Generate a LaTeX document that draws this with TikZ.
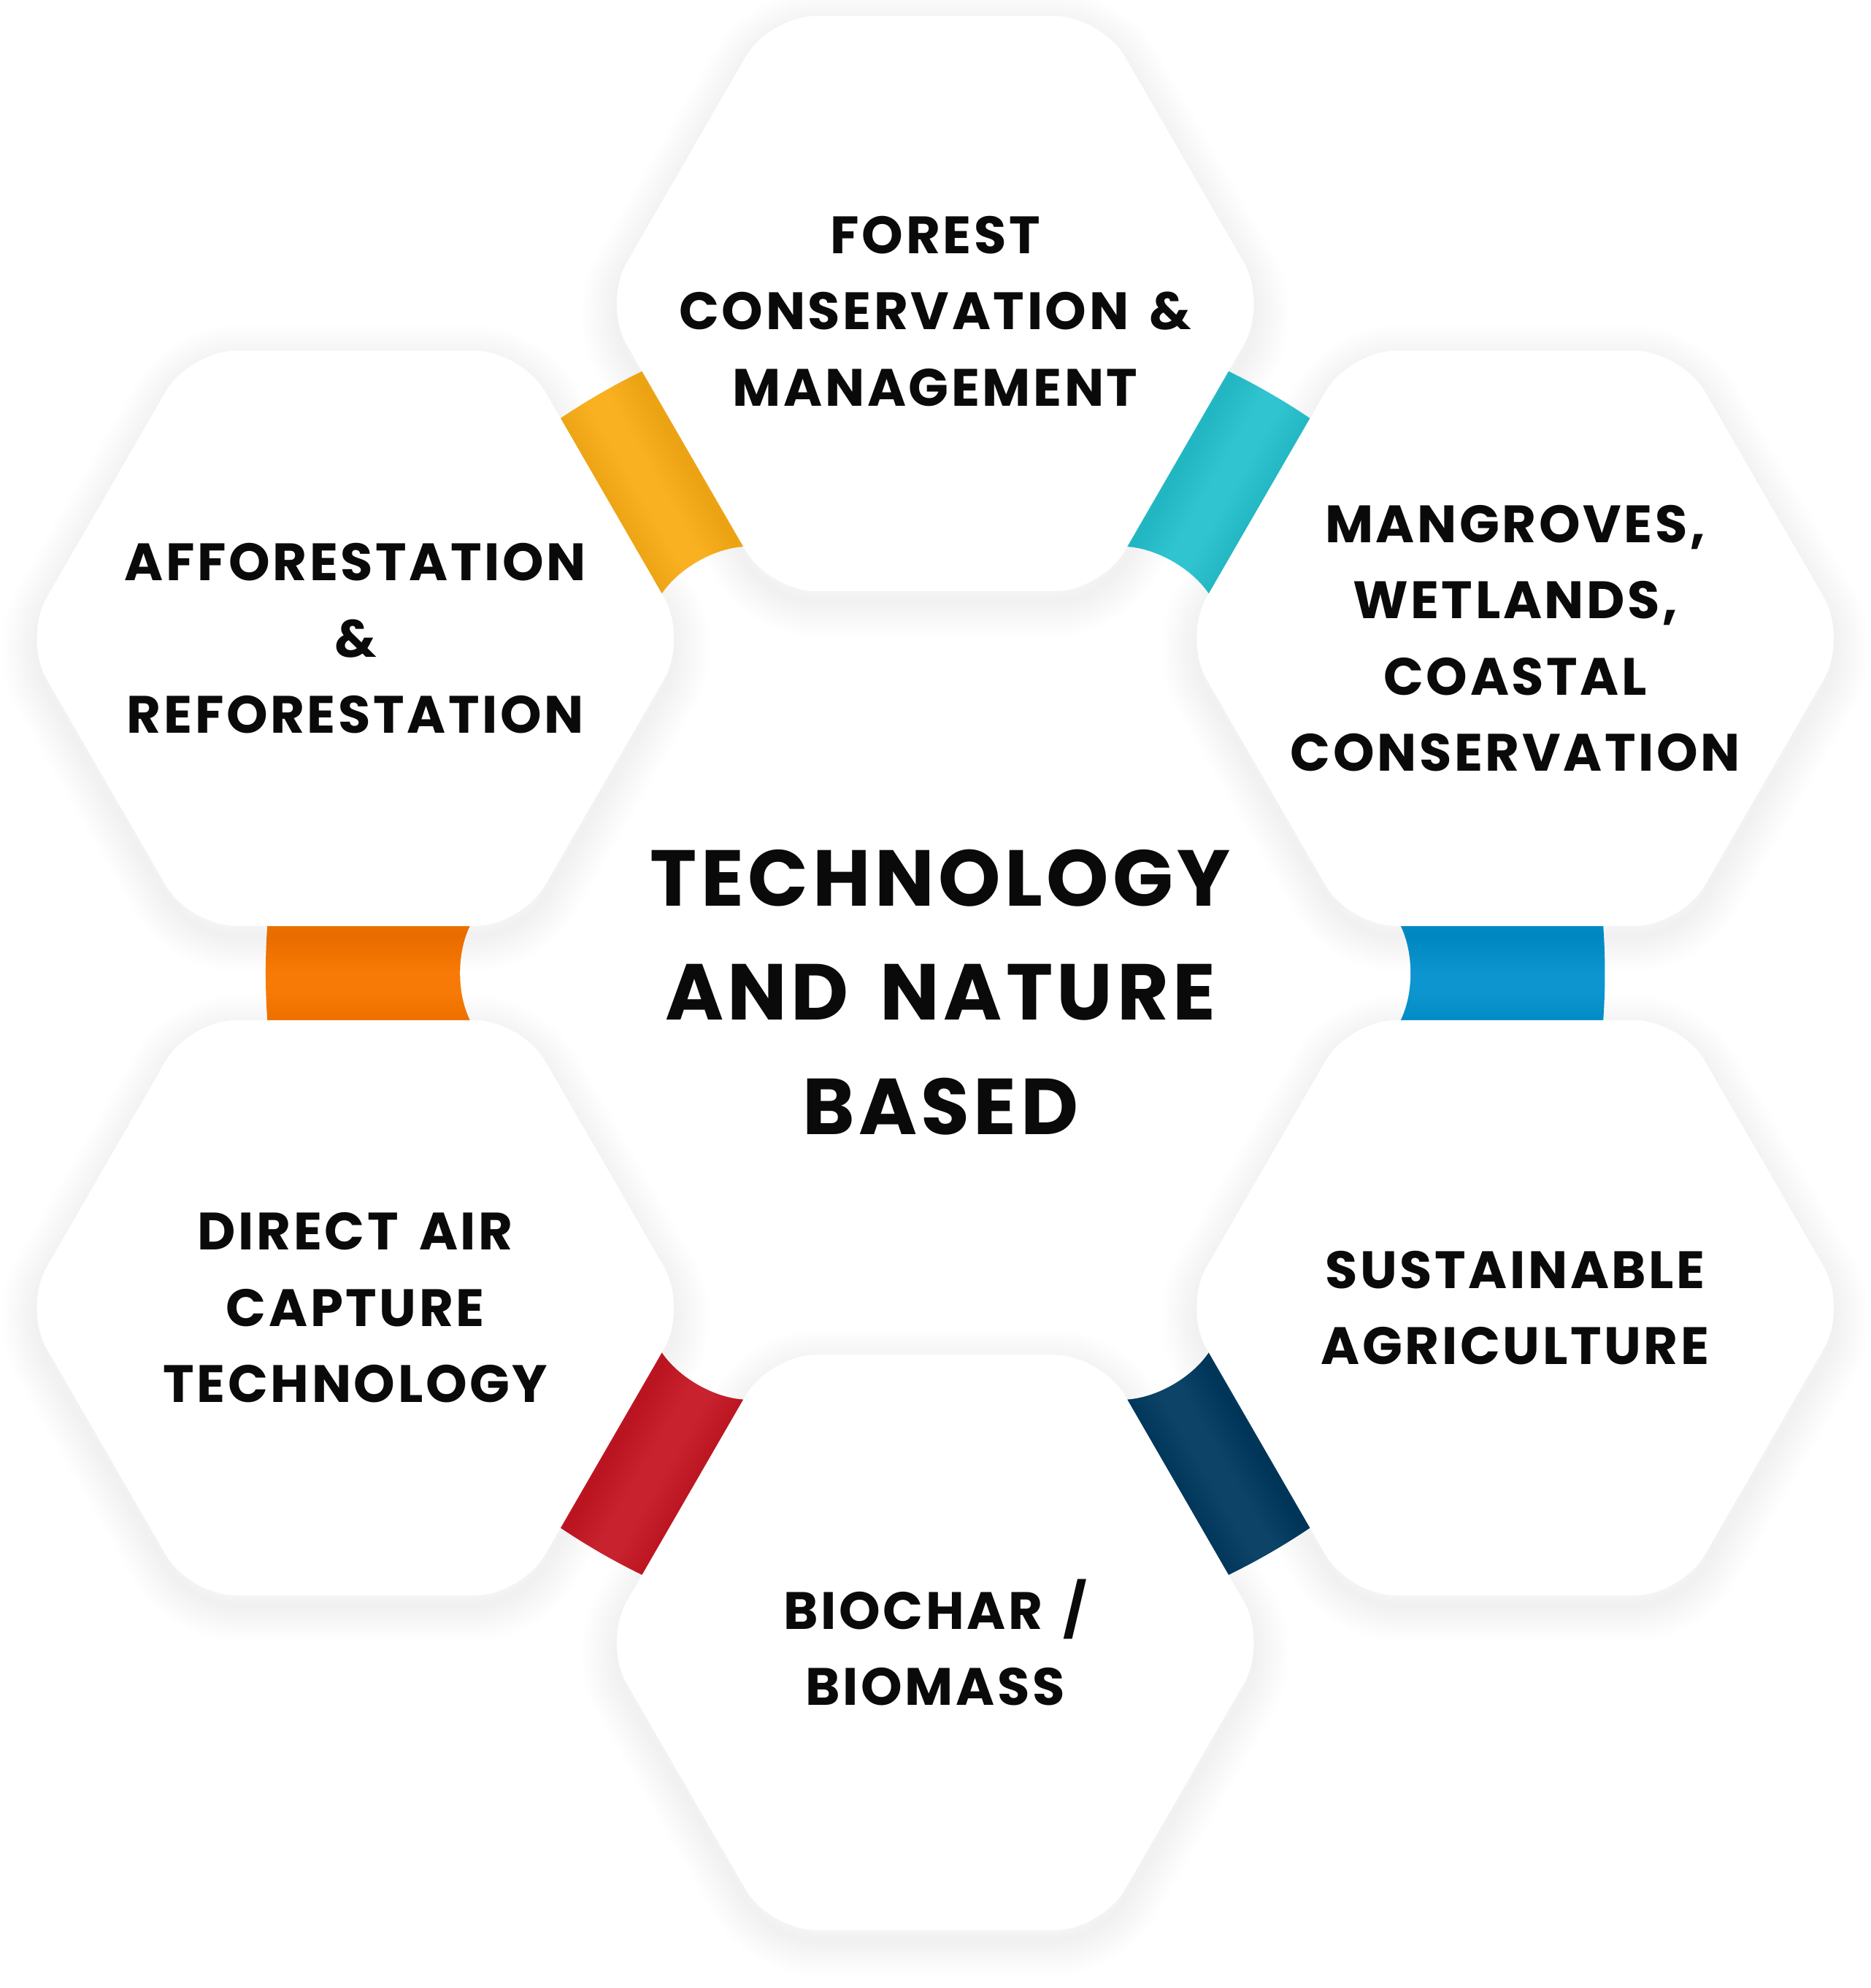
\documentclass[tikz,border=0pt]{standalone}
\usepackage{fontspec}
\newfontfamily\hexfont{Poppins}[LetterSpace=5,WordSpace=1.5]
\usepackage{xcolor}
\definecolor{cYellow}{HTML}{F9B122}
\definecolor{cCyan}{HTML}{2FC4D0}
\definecolor{cBlue}{HTML}{0C95CF}
\definecolor{cNavy}{HTML}{0C4366}
\definecolor{cRed}{HTML}{C9222F}
\definecolor{cOrange}{HTML}{F77A06}
\definecolor{cText}{HTML}{0A0A0A}
\usepackage{tikz}
\usetikzlibrary{shapes.geometric}
\tikzset{
  node-hex/.style={regular polygon,regular polygon sides=6,minimum size=5.24cm,
    inner sep=0pt,rounded corners=0.37cm,fill=white},
  node-core/.style={regular polygon,regular polygon sides=6,minimum size=7.77cm,
    inner sep=0pt,rounded corners=0.47cm,fill=white},
  node-label/.style={align=center,text=cText,inner sep=0pt,
    font=\hexfont\bfseries\fontsize{11.8}{17.1}\selectfont},
  node-title/.style={align=center,text=cText,inner sep=0pt,
    font=\hexfont\bfseries\fontsize{17.8}{25.6}\selectfont},
  hex-shadow/.style={node-hex,fill=none,draw=black,opacity=0.005},
}

\begin{document}
\begin{tikzpicture}
  \fill[white] (-7.375,-8.005) rectangle (7.375,7.675);
  \useasboundingbox (-7.375,-8.005) rectangle (7.375,7.675);

  % colour ring behind the gaps
  \foreach \ang/\col in {120/cYellow,60/cCyan,0/cBlue,-60/cNavy,-120/cRed,180/cOrange}
    \fill[\col] (\ang-30:5.28) arc[start angle=\ang-30,end angle=\ang+30,radius=5.28]
      -- (\ang+30:3) arc[start angle=\ang+30,end angle=\ang-30,radius=3] -- cycle;

  \node[node-core] (core) at (0,0) {};

  % soft shadows
  \foreach \ang [count=\n] in {90,30,-30,-90,-150,150}
    \foreach \w [count=\k] in {4,8,...,56}
      \node[hex-shadow,line width=\w*0.01cm,yshift=-0.08cm] (shadow-\n-\k) at (\ang:5.28) {};

  \node[node-hex] (forest) at (90:5.28) {};
  \node[node-hex] (coast) at (30:5.28) {};
  \node[node-hex] (agri) at (-30:5.28) {};
  \node[node-hex] (biochar) at (-90:5.28) {};
  \node[node-hex] (dac) at (-150:5.28) {};
  \node[node-hex] (affor) at (150:5.28) {};

  \node[node-label,yshift=-0.06cm] (forest-text) at (forest) {FOREST\\CONSERVATION \&\\MANAGEMENT};
  \node[node-label] (coast-text) at (coast) {MANGROVES,\\WETLANDS,\\COASTAL\\CONSERVATION};
  \node[node-label] (agri-text) at (agri) {SUSTAINABLE\\AGRICULTURE};
  \node[node-label] (biochar-text) at (biochar) {BIOCHAR /\\BIOMASS};
  \node[node-label] (dac-text) at (dac) {DIRECT AIR\\CAPTURE\\TECHNOLOGY};
  \node[node-label] (affor-text) at (affor) {AFFORESTATION\\\&\\REFORESTATION};

  \node[node-title] (title) at (0.04,-0.15) {TECHNOLOGY\\AND NATURE\\BASED};
\end{tikzpicture}
\end{document}
